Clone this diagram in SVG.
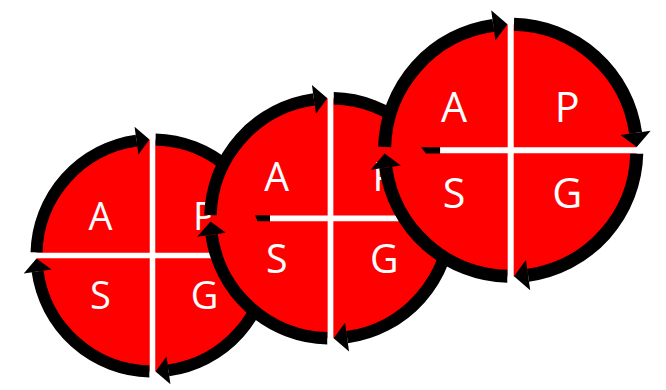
<svg xmlns="http://www.w3.org/2000/svg" width="666" height="390" viewBox="0 0 666 390">
<style>
.disc{fill:#FF0000}
.arc{fill:none;stroke:#000;stroke-width:12}
.head{fill:#000}
.cross{stroke:#FFF;stroke-width:5.5;fill:none}
.lbl{font-family:"Open Sans","Liberation Sans",sans-serif;font-size:38px;fill:#FFF;text-anchor:middle}
</style>
<rect width="666" height="390" fill="#FFF"/>
<g id="cycle1" transform="translate(152.5,255.5)">
  <circle class="disc" r="116"/>
  <g class="connectors">
    <path class="arc" d="M-115.96,-3 A116,116 0 0 1 -16,-114.89"/>
    <polygon class="head" points="-14.07,-101.02 -17.94,-128.76 -3,-115.96"/>
    <path class="arc" d="M3,-115.96 A116,116 0 0 1 114.89,-16"/>
    <polygon class="head" points="101.02,-14.07 128.76,-17.94 115.96,-3"/>
    <path class="arc" d="M115.96,3 A116,116 0 0 1 16,114.89"/>
    <polygon class="head" points="14.07,101.02 17.94,128.76 3,115.96"/>
    <path class="arc" d="M-3,115.96 A116,116 0 0 1 -114.89,16"/>
    <polygon class="head" points="-101.02,14.07 -128.76,17.94 -115.96,3"/>
  </g>
  <path class="cross" d="M0,-120 V120 M-120,0 H120"/>
  <text class="lbl" x="-52" y="-26">A</text>
  <text class="lbl" x="52" y="-26">P</text>
  <text class="lbl" x="-52" y="53">S</text>
  <text class="lbl" x="52" y="53">G</text>
</g>
<g id="cycle2" transform="translate(330.5,218.3) scale(1.035)">
  <circle class="disc" r="116"/>
  <g class="connectors">
    <path class="arc" d="M-115.96,-3 A116,116 0 0 1 -16,-114.89"/>
    <polygon class="head" points="-14.07,-101.02 -17.94,-128.76 -3,-115.96"/>
    <path class="arc" d="M3,-115.96 A116,116 0 0 1 114.89,-16"/>
    <polygon class="head" points="101.02,-14.07 128.76,-17.94 115.96,-3"/>
    <path class="arc" d="M115.96,3 A116,116 0 0 1 16,114.89"/>
    <polygon class="head" points="14.07,101.02 17.94,128.76 3,115.96"/>
    <path class="arc" d="M-3,115.96 A116,116 0 0 1 -114.89,16"/>
    <polygon class="head" points="-101.02,14.07 -128.76,17.94 -115.96,3"/>
  </g>
  <path class="cross" d="M0,-120 V120 M-58.5,0 H120"/>
  <polygon class="head" points="-72.9,-2.9 -58.5,-2.9 -58.5,2.9 -70.5,2.9"/>
  <text class="lbl" x="-52" y="-26">A</text>
  <text class="lbl" x="52" y="-26">P</text>
  <text class="lbl" x="-52" y="53">S</text>
  <text class="lbl" x="52" y="53">G</text>
</g>
<g id="cycle3" transform="translate(510.7,150.3) scale(1.087)">
  <circle class="disc" r="116"/>
  <g class="connectors">
    <path class="arc" d="M-115.96,-3 A116,116 0 0 1 -16,-114.89"/>
    <polygon class="head" points="-14.07,-101.02 -17.94,-128.76 -3,-115.96"/>
    <path class="arc" d="M3,-115.96 A116,116 0 0 1 114.89,-16"/>
    <polygon class="head" points="101.02,-14.07 128.76,-17.94 115.96,-3"/>
    <path class="arc" d="M115.96,3 A116,116 0 0 1 16,114.89"/>
    <polygon class="head" points="14.07,101.02 17.94,128.76 3,115.96"/>
    <path class="arc" d="M-3,115.96 A116,116 0 0 1 -114.89,16"/>
    <polygon class="head" points="-101.02,14.07 -128.76,17.94 -115.96,3"/>
  </g>
  <path class="cross" d="M0,-120 V120 M-65,0 H120"/>
  <polygon class="head" points="-82.5,-2.9 -65,-2.9 -65,2.9 -78,2.9"/>
  <text class="lbl" x="-52" y="-26">A</text>
  <text class="lbl" x="52" y="-26">P</text>
  <text class="lbl" x="-52" y="53">S</text>
  <text class="lbl" x="52" y="53">G</text>
</g>
</svg>
